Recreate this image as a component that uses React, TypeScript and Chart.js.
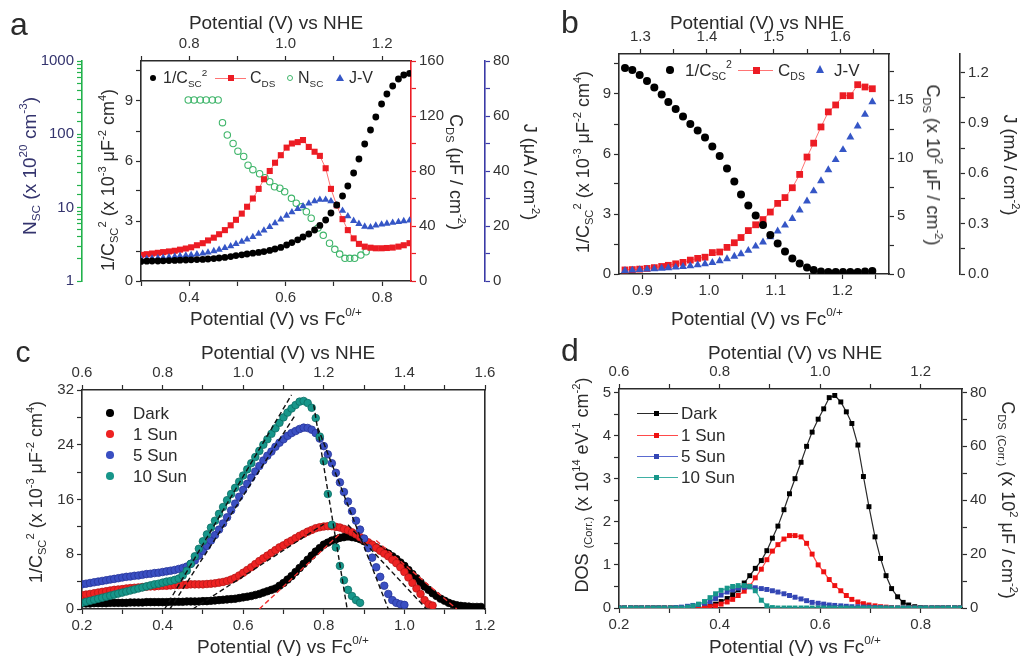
import React, { useEffect, useRef } from 'react';
import { Chart, registerables } from 'chart.js';

Chart.register(...registerables);

const FONT = '"Liberation Sans", Arial, Helvetica, sans-serif';
const INK = '#2b2b2b';

// ---------- (a) capacitance / current vs potential ----------
const potA = [0.300, 0.312, 0.323, 0.335, 0.346, 0.358, 0.370, 0.381, 0.393, 0.404,
  0.416, 0.428, 0.439, 0.451, 0.462, 0.474, 0.486, 0.497, 0.509, 0.520,
  0.532, 0.544, 0.555, 0.567, 0.578, 0.590, 0.602, 0.613, 0.625, 0.636,
  0.648, 0.660, 0.671, 0.683, 0.694, 0.706, 0.718, 0.729, 0.741, 0.752,
  0.764, 0.776, 0.787, 0.799, 0.810, 0.822, 0.834, 0.845, 0.857];
const invCscA = [0.98, 0.99, 1.0, 1.0, 1.01, 1.02, 1.03, 1.04, 1.05, 1.06,
  1.07, 1.08, 1.1, 1.12, 1.15, 1.18, 1.22, 1.27, 1.31, 1.35,
  1.39, 1.43, 1.47, 1.53, 1.6, 1.68, 1.8, 1.92, 2.06, 2.2,
  2.35, 2.55, 2.78, 3.05, 3.4, 3.8, 4.25, 4.75, 5.4, 6.1,
  6.85, 7.55, 8.2, 8.85, 9.35, 9.75, 10.1, 10.3, 10.38];
const cdsA = [19, 19.5, 20, 20.5, 21, 21.5, 22, 22.8, 23.6, 24.5,
  26, 27.5, 29.5, 31.5, 34, 37, 40.5, 44.5, 49, 54,
  60, 67, 74, 80, 86, 91.5, 97, 100, 101, 102.5,
  97.5, 94, 91, 82, 67, 55, 45, 37, 31, 27,
  25, 24.2, 23.8, 23.8, 24, 24.3, 25, 26, 27.5];
const jvA = [8.0, 8.1, 8.2, 8.35, 8.5, 8.7, 8.9, 9.1, 9.3, 9.5,
  9.75, 10.0, 10.4, 10.9, 11.4, 12.0, 12.7, 13.5, 14.3, 15.1,
  16.0, 17.2, 18.4, 19.7, 21.0, 22.4, 23.8, 25.0, 26.2, 27.2,
  28.2, 29.0, 29.6, 29.6, 29.0, 27.6, 25.6, 23.6, 21.9, 20.8,
  19.8, 19.6, 20.2, 20.6, 20.9, 21.2, 21.5, 21.8, 22.0];
const potNscA = [0.398, 0.410, 0.423, 0.435, 0.448, 0.460, 0.469, 0.479, 0.491, 0.501,
  0.513, 0.522, 0.532, 0.546, 0.557, 0.567, 0.577, 0.588, 0.598, 0.612,
  0.622, 0.633, 0.643, 0.653, 0.667, 0.678, 0.691, 0.702, 0.712, 0.723,
  0.733, 0.743, 0.756, 0.767];
const nscA = [294, 294, 294, 294, 294, 294, 144, 98, 75, 59,
  50, 38, 33, 29, 25.6, 22.6, 19.3, 18.4, 16.5, 13.4,
  11.5, 10.3, 8.8, 7.2, 5.3, 4.2, 3.27, 2.7, 2.33, 2.04,
  2.04, 2.04, 2.26, 2.5];

// ---------- (b) ----------
const potB = [0.874, 0.885, 0.896, 0.907, 0.918, 0.929, 0.939, 0.950, 0.961, 0.972,
  0.983, 0.994, 1.005, 1.016, 1.027, 1.038, 1.048, 1.059, 1.070, 1.081,
  1.092, 1.103, 1.114, 1.125, 1.136, 1.147, 1.157, 1.168, 1.179, 1.190,
  1.201, 1.212, 1.223, 1.234, 1.245];
const invCscB = [10.3, 10.2, 9.95, 9.65, 9.32, 8.98, 8.6, 8.25, 7.88, 7.5,
  7.17, 6.83, 6.37, 5.9, 5.28, 4.62, 3.98, 3.42, 2.92, 2.45,
  1.95, 1.53, 1.12, 0.78, 0.53, 0.33, 0.2, 0.13, 0.1, 0.1,
  0.1, 0.1, 0.1, 0.12, 0.15];
const cdsB = [0.35, 0.38, 0.42, 0.48, 0.55, 0.65, 0.75, 0.88, 1.0, 1.2,
  1.35, 1.45, 1.85, 1.9, 2.3, 2.7, 3.15, 3.75, 4.25, 4.7,
  5.35, 6.1, 6.6, 7.45, 8.6, 10.1, 11.3, 12.7, 14.0, 14.6,
  15.4, 15.4, 16.35, 16.15, 16.0];
const jvB = [0.02, 0.022, 0.025, 0.028, 0.03, 0.033, 0.036, 0.04, 0.044, 0.048,
  0.054, 0.06, 0.068, 0.078, 0.09, 0.105, 0.12, 0.14, 0.165, 0.19,
  0.22, 0.255, 0.29, 0.33, 0.38, 0.434, 0.494, 0.554, 0.62, 0.68,
  0.74, 0.815, 0.88, 0.95, 1.025];

// ---------- (c) Mott-Schottky under illumination ----------
const potC = [0.20, 0.21, 0.22, 0.23, 0.24, 0.25, 0.26, 0.27, 0.28, 0.29,
  0.30, 0.31, 0.32, 0.33, 0.34, 0.35, 0.36, 0.37, 0.38, 0.39,
  0.40, 0.41, 0.42, 0.43, 0.44, 0.45, 0.46, 0.47, 0.48, 0.49,
  0.50, 0.51, 0.52, 0.53, 0.54, 0.55, 0.56, 0.57, 0.58, 0.59,
  0.60, 0.61, 0.62, 0.63, 0.64, 0.65, 0.66, 0.67, 0.68, 0.69,
  0.70, 0.71, 0.72, 0.73, 0.74, 0.75, 0.76, 0.77, 0.78, 0.79,
  0.80, 0.81, 0.82, 0.83, 0.84, 0.85, 0.86, 0.87, 0.88, 0.89,
  0.90, 0.91, 0.92, 0.93, 0.94, 0.95, 0.96, 0.97, 0.98, 0.99,
  1.00, 1.01, 1.02, 1.03, 1.04, 1.05, 1.06, 1.07, 1.08, 1.09,
  1.10, 1.11, 1.12, 1.13, 1.14, 1.15, 1.16, 1.17, 1.18, 1.19];
const darkC = [0.8, 0.8, 0.8, 0.85, 0.85, 0.85, 0.85, 0.9, 0.9, 0.9,
  0.9, 0.9, 0.95, 0.95, 0.95, 0.95, 1.0, 1.0, 1.0, 1.0,
  1.0, 1.0, 1.05, 1.05, 1.05, 1.05, 1.1, 1.1, 1.1, 1.1,
  1.15, 1.15, 1.2, 1.25, 1.3, 1.35, 1.4, 1.45, 1.5, 1.6,
  1.7, 1.8, 1.9, 2.05, 2.2, 2.4, 2.6, 2.8, 3.0, 3.4,
  3.8, 4.3, 4.8, 5.4, 6.0, 6.6, 7.2, 7.8, 8.4, 8.9,
  9.4, 9.7, 10.0, 10.2, 10.4, 10.5, 10.6, 10.5, 10.4, 10.2,
  9.9, 9.6, 9.3, 9.0, 8.7, 8.4, 8.1, 7.7, 7.3, 6.8,
  6.3, 5.7, 5.1, 4.5, 3.9, 3.3, 2.8, 2.3, 1.9, 1.5,
  1.2, 0.9, 0.7, 0.55, 0.45, 0.4, 0.35, 0.3, 0.3, 0.3];
const sun1C = [2.0, 2.1, 2.2, 2.3, 2.4, 2.5, 2.6, 2.7, 2.8, 2.85,
  2.9, 3.0, 3.05, 3.1, 3.15, 3.2, 3.25, 3.3, 3.3, 3.35,
  3.4, 3.4, 3.45, 3.5, 3.5, 3.55, 3.55, 3.6, 3.6, 3.6,
  3.6, 3.65, 3.7, 3.75, 3.85, 3.95, 4.1, 4.3, 4.55, 4.9,
  5.3, 5.7, 6.1, 6.55, 7.0, 7.4, 7.8, 8.2, 8.6, 9.0,
  9.3, 9.7, 10.0, 10.35, 10.7, 11.0, 11.3, 11.55, 11.8, 11.95,
  12.05, 12.1, 12.1, 12.0, 11.9, 11.7, 11.5, 11.2, 10.9, 10.5,
  10.1, 9.75, 9.4, 8.95, 8.5, 8.1, 7.7, 7.2, 6.7, 6.1,
  5.4, 4.6, 3.8, 3.0, 2.2, 1.3, 0.7, 0.5];
const sun5C = [3.6, 3.7, 3.8, 3.9, 4.0, 4.1, 4.2, 4.3, 4.4, 4.5,
  4.6, 4.7, 4.75, 4.85, 4.9, 5.0, 5.1, 5.15, 5.25, 5.3,
  5.4, 5.5, 5.6, 5.7, 5.85, 6.0, 6.2, 6.6, 7.1, 7.8,
  8.5, 9.2, 10.0, 10.8, 11.6, 12.5, 13.4, 14.4, 15.4, 16.4,
  17.4, 18.3, 19.2, 20.1, 20.9, 21.7, 22.4, 23.0, 23.7, 24.3,
  24.8, 25.3, 25.7, 26.0, 26.3, 26.5, 26.45, 26.2, 25.7, 24.9,
  23.8, 22.6, 21.3, 19.9, 18.5, 17.1, 15.7, 14.3, 12.9, 11.6,
  10.3, 8.9, 7.5, 6.1, 4.7, 3.4, 2.2, 1.3, 0.9, 0.7,
  0.6];
const sun10C = [0.9, 1.05, 1.2, 1.35, 1.5, 1.65, 1.8, 1.95, 2.1, 2.25,
  2.4, 2.55, 2.7, 2.85, 3.0, 3.15, 3.3, 3.45, 3.6, 3.7,
  3.85, 4.0, 4.1, 4.25, 4.45, 4.9, 5.6, 6.6, 7.7, 8.8,
  9.9, 10.9, 11.9, 12.9, 13.9, 14.9, 15.9, 16.8, 17.7, 18.6,
  19.5, 20.4, 21.3, 22.2, 23.1, 24.0, 24.8, 25.6, 26.4, 27.2,
  28.0, 28.7, 29.3, 29.8, 30.3, 30.4, 30.1, 29.4, 27.9, 25.2,
  21.6, 16.8, 12.3, 9.0, 6.3, 4.2, 2.8, 1.9, 1.3, 0.9];
// straight-line extrapolations: [x0, x1, y0, y1]
const fitsC = [
  [0.405, 0.720, 0, 31.3],
  [0.775, 0.858, 29.8, 0],
  [0.418, 0.730, 0, 28.4],
  [0.785, 0.960, 26.5, 0],
  [0.475, 0.800, 0, 12.4],
  [0.860, 1.055, 12.3, 0],
];
const darkFitsC = [
  [0.640, 0.840, 0, 11.0],
  [0.930, 1.130, 10.0, 0],
];

// ---------- (d) corrected density of states ----------
const potD = [0.200, 0.211, 0.223, 0.234, 0.245, 0.257, 0.268, 0.279, 0.290, 0.302,
  0.313, 0.324, 0.336, 0.347, 0.358, 0.370, 0.381, 0.392, 0.403, 0.415,
  0.426, 0.437, 0.449, 0.460, 0.471, 0.483, 0.494, 0.505, 0.516, 0.528,
  0.539, 0.550, 0.562, 0.573, 0.584, 0.596, 0.607, 0.618, 0.629, 0.641,
  0.652, 0.663, 0.675, 0.686, 0.697, 0.709, 0.720, 0.731, 0.742, 0.754,
  0.765, 0.776, 0.788, 0.799, 0.810, 0.822, 0.833, 0.844, 0.855, 0.867,
  0.878];
const darkD = [0, 0, 0, 0, 0, 0, 0, 0, 0, 0,
  0, 0, 0, 0, 0.01, 0.02, 0.05, 0.09, 0.15, 0.22,
  0.31, 0.42, 0.58, 0.75, 0.92, 1.1, 1.33, 1.62, 1.9, 2.28,
  2.65, 3.0, 3.38, 3.75, 4.08, 4.38, 4.62, 4.88, 4.93, 4.78,
  4.55, 4.28, 3.78, 3.05, 2.35, 1.65, 1.15, 0.75, 0.45, 0.26,
  0.13, 0.07, 0.03, 0.01, 0, 0, 0, 0, 0, 0,
  0];
const sun1D = [0, 0, 0, 0, 0, 0, 0, 0, 0, 0,
  0, 0, 0, 0, 0, 0.01, 0.03, 0.05, 0.09, 0.14,
  0.2, 0.29, 0.39, 0.51, 0.7, 0.9, 1.12, 1.32, 1.47, 1.6,
  1.68, 1.68, 1.65, 1.5, 1.25, 1.0, 0.84, 0.66, 0.52, 0.4,
  0.29, 0.2, 0.14, 0.1, 0.07, 0.05, 0.03, 0.02, 0.01, 0,
  0, 0, 0, 0, 0, 0, 0, 0, 0, 0,
  0];
const sun5D = [0, 0, 0, 0, 0, 0, 0, 0, 0, 0,
  0.01, 0.02, 0.04, 0.06, 0.08, 0.11, 0.15, 0.22, 0.3, 0.37,
  0.42, 0.46, 0.48, 0.49, 0.47, 0.45, 0.43, 0.4, 0.37, 0.33,
  0.29, 0.25, 0.21, 0.17, 0.13, 0.11, 0.09, 0.07, 0.06, 0.05,
  0.04, 0.03, 0.03, 0.02, 0.02, 0.01, 0.01, 0, 0, 0,
  0, 0, 0, 0, 0, 0, 0, 0, 0, 0,
  0];
const sun10D = [0, 0, 0, 0, 0, 0, 0, 0, 0, 0,
  0, 0, 0.02, 0.05, 0.09, 0.15, 0.24, 0.33, 0.41, 0.46,
  0.5, 0.52, 0.52, 0.5, 0.4, 0.18, 0.05, 0.01, 0, 0,
  0, 0, 0, 0, 0, 0, 0, 0, 0, 0,
  0, 0, 0, 0, 0, 0, 0, 0, 0, 0,
  0, 0, 0, 0, 0, 0, 0, 0, 0, 0,
  0];

// ---------- helpers ----------
const pts = (xs: number[], ys: number[]) => ys.map((y, i) => ({ x: xs[i], y }));

const majorLabel = (major: number, digits: number) => (v: number | string) => {
  const n = Number(v);
  const r = n / major;
  return Math.abs(r - Math.round(r)) < 1e-6 ? n.toFixed(digits) : '';
};
const logLabel = (v: number | string) => {
  const n = Number(v);
  return [1, 10, 100, 1000].includes(n) ? String(n) : '';
};

type Side = 'left' | 'right' | 'top' | 'bottom';
interface AxOpt {
  side: Side; min: number; max: number; size: number;
  step?: number; major?: number; digits?: number; weight?: number;
  color?: string; labelColor?: string; log?: boolean; ticks?: boolean; labels?: boolean;
}
function ax(o: AxOpt): any {
  const col = o.color ?? INK;
  const vertical = o.side === 'left' || o.side === 'right';
  return {
    type: o.log ? 'logarithmic' : 'linear',
    axis: vertical ? 'y' : 'x',
    position: o.side,
    min: o.min,
    max: o.max,
    weight: o.weight ?? 0,
    afterFit: (s: any) => {
      if (vertical) s.width = o.size; else s.height = o.size;
    },
    border: { display: true, color: col, width: 1.6 },
    grid: {
      display: true, drawOnChartArea: false, drawTicks: o.ticks !== false,
      tickLength: 5, tickWidth: 1.2, tickColor: col,
    },
    ticks: {
      autoSkip: false, includeBounds: false, maxRotation: 0, minRotation: 0, padding: 3,
      color: o.labelColor ?? '#333', font: { family: FONT, size: 15 },
      stepSize: o.step,
      callback: o.labels === false ? () => '' : o.log ? logLabel : majorLabel(o.major ?? 1, o.digits ?? 0),
    },
  };
}

const baseOptions = (padding: any, scales: any) => ({
  animation: false,
  responsive: false,
  events: [],
  layout: { padding },
  plugins: { legend: { display: false }, tooltip: { enabled: false } },
  scales,
});

const RED = '#ec1c24';
const RED_LINE = '#ff7474';
const BLUE = '#3556c6';
const GREEN = '#3fb56a';
const TEAL = '#17968a';
const NAVY = '#34346e';
const AXIS_BLUE = '#3a3aa6';
const AXIS_GREEN = '#22b24c';

function configA(): any {
  return {
    type: 'scatter',
    data: {
      datasets: [
        { data: pts(potA, invCscA), yAxisID: 'y', order: 0, pointRadius: 3.4, pointBackgroundColor: '#000', pointBorderWidth: 0 },
        { data: pts(potA, jvA), yAxisID: 'yJ', order: 1, pointStyle: 'triangle', pointRadius: 4.2, pointBackgroundColor: BLUE, pointBorderWidth: 0 },
        { data: pts(potA, cdsA), yAxisID: 'yC', order: 2, showLine: true, borderColor: RED_LINE, borderWidth: 1, pointStyle: 'rect', pointRadius: 4.3, pointBackgroundColor: RED, pointBorderWidth: 0 },
        { data: pts(potNscA, nscA), yAxisID: 'yN', order: 3, pointRadius: 3.2, pointBackgroundColor: 'rgba(0,0,0,0)', pointBorderColor: GREEN, pointBorderWidth: 1.1 },
      ],
    },
    options: baseOptions({ left: 40, top: 30, right: 497, bottom: 345 }, {
      x: ax({ side: 'bottom', min: 0.3, max: 0.86, step: 0.1, major: 0.2, digits: 1, size: 30 }),
      xTop: ax({ side: 'top', min: 0.7, max: 1.26, step: 0.1, major: 0.2, digits: 1, size: 31 }),
      y: ax({ side: 'left', min: 0, max: 11, step: 1.5, major: 3, digits: 0, size: 59, weight: 0 }),
      yN: ax({ side: 'left', min: 1, max: 1000, log: true, size: 42, weight: 1, color: AXIS_GREEN, labelColor: NAVY }),
      yC: ax({ side: 'right', min: 0, max: 160, step: 20, major: 40, digits: 0, size: 74, weight: 0, color: RED }),
      yJ: ax({ side: 'right', min: 0, max: 80, step: 10, major: 20, digits: 0, size: 40, weight: 1, color: AXIS_BLUE }),
    }),
  };
}

function configB(): any {
  return {
    type: 'scatter',
    data: {
      datasets: [
        { data: pts(potB, invCscB), yAxisID: 'y', order: 0, pointRadius: 4, pointBackgroundColor: '#000', pointBorderWidth: 0 },
        { data: pts(potB, jvB), yAxisID: 'yJ', order: 1, pointStyle: 'triangle', pointRadius: 4.6, pointBackgroundColor: BLUE, pointBorderWidth: 0 },
        { data: pts(potB, cdsB), yAxisID: 'yC', order: 2, showLine: true, borderColor: RED_LINE, borderWidth: 1, pointStyle: 'rect', pointRadius: 4.8, pointBackgroundColor: RED, pointBorderWidth: 0 },
      ],
    },
    options: baseOptions({ left: 579, top: 24, right: 22, bottom: 352 }, {
      x: ax({ side: 'bottom', min: 0.865, max: 1.27, step: 0.05, major: 0.1, digits: 1, size: 30 }),
      xTop: ax({ side: 'top', min: 1.268, max: 1.673, step: 0.05, major: 0.1, digits: 1, size: 30 }),
      y: ax({ side: 'left', min: 0, max: 11, step: 1.5, major: 3, digits: 0, size: 40 }),
      yC: ax({ side: 'right', min: 0, max: 19, step: 2.5, major: 5, digits: 0, size: 71, weight: 0 }),
      yJ: ax({ side: 'right', min: 0, max: 1.31, step: 0.15, major: 0.3, digits: 1, size: 40, weight: 1 }),
    }),
  };
}

function lineSeg(f: number[], color: string, order: number): any {
  return {
    data: [{ x: f[0], y: f[2] }, { x: f[1], y: f[3] }],
    yAxisID: 'y', order, showLine: true, borderColor: color, borderWidth: 1.4,
    borderDash: [5, 3], pointRadius: 0,
  };
}

function configC(): any {
  const dot = (ys: number[], color: string, rim: string, order: number) => ({
    data: pts(potC, ys), yAxisID: 'y', order, pointRadius: 3.8,
    pointBackgroundColor: color, pointBorderColor: rim, pointBorderWidth: 0.8,
  });
  return {
    type: 'scatter',
    data: {
      datasets: [
        ...fitsC.map((f) => lineSeg(f, '#111', 0)),
        ...darkFitsC.map((f) => lineSeg(f, '#f03030', 0)),
        dot(sun10C, TEAL, '#0d6f65', 1),
        dot(sun5C, '#3a4fc2', '#27359a', 2),
        dot(sun1C, '#ee2222', '#b81818', 3),
        dot(darkC, '#000', '#000', 4),
      ],
    },
    options: baseOptions({ left: 42, top: 365, right: 535, bottom: 17 }, {
      x: ax({ side: 'bottom', min: 0.2, max: 1.2, step: 0.1, major: 0.2, digits: 1, size: 30 }),
      xTop: ax({ side: 'top', min: 0.6, max: 1.6, step: 0.1, major: 0.2, digits: 1, size: 25 }),
      y: ax({ side: 'left', min: 0, max: 32, step: 4, major: 8, digits: 0, size: 40 }),
      yR: ax({ side: 'right', min: 0, max: 32, size: 2, ticks: false, labels: false }),
    }),
  };
}

function configD(): any {
  const ser = (ys: number[], line: string, fill: string, order: number) => ({
    data: pts(potD, ys), yAxisID: 'y', order, showLine: true, borderColor: line, borderWidth: 1.2,
    pointStyle: 'rect', pointRadius: 3.5, pointBackgroundColor: fill, pointBorderWidth: 0,
  });
  return {
    type: 'scatter',
    data: {
      datasets: [
        ser(sun10D, '#3fb0a4', TEAL, 0),
        ser(sun5D, '#5a6ad0', '#3346b4', 1),
        ser(sun1D, '#ff4a4a', '#ee1111', 2),
        ser(darkD, '#2a2a2a', '#000', 3),
      ],
    },
    options: baseOptions({ left: 579, top: 364, right: 20, bottom: 18 }, {
      x: ax({ side: 'bottom', min: 0.2, max: 0.882, step: 0.1, major: 0.2, digits: 1, size: 30 }),
      xTop: ax({ side: 'top', min: 0.6, max: 1.282, step: 0.1, major: 0.2, digits: 1, size: 25 }),
      y: ax({ side: 'left', min: 0, max: 5.08, step: 0.5, major: 1, digits: 0, size: 40 }),
      yC: ax({ side: 'right', min: 0, max: 81.28, step: 10, major: 20, digits: 0, size: 40 }),
    }),
  };
}

// ---------- text overlay pieces ----------
const Sb = ({ children }: any) => (
  <sub style={{ fontSize: '0.62em', verticalAlign: '-0.4em', lineHeight: 0 }}>{children}</sub>
);
const Sp = ({ children }: any) => (
  <sup style={{ fontSize: '0.62em', verticalAlign: '0.75em', lineHeight: 0 }}>{children}</sup>
);

function T({ x, y, s = 19, rot = 0, a = 'c', c = INK, children }: any) {
  const tx = a === 'c' ? '-50%' : a === 'l' ? '0' : '-100%';
  return (
    <div
      style={{
        position: 'absolute', left: x, top: y, whiteSpace: 'nowrap', fontSize: s,
        lineHeight: 1, color: c, fontFamily: FONT,
        transform: `translate(${tx},-50%) rotate(${rot}deg)`,
      }}
    >
      {children}
    </div>
  );
}

const Dot = ({ x, y, r = 3.5, c = '#000' }: any) => (
  <div style={{ position: 'absolute', left: x - r, top: y - r, width: 2 * r, height: 2 * r, borderRadius: '50%', background: c }} />
);
const Ring = ({ x, y, r = 3.4, c = GREEN }: any) => (
  <div style={{ position: 'absolute', left: x - r, top: y - r, width: 2 * r, height: 2 * r, borderRadius: '50%', border: `1.1px solid ${c}`, boxSizing: 'border-box' }} />
);
const Sq = ({ x, y, s = 6, c = RED }: any) => (
  <div style={{ position: 'absolute', left: x - s / 2, top: y - s / 2, width: s, height: s, background: c }} />
);
const Tri = ({ x, y, w = 8, h = 7, c = BLUE }: any) => (
  <div style={{ position: 'absolute', left: x - w / 2, top: y - h / 2, width: 0, height: 0, borderLeft: `${w / 2}px solid transparent`, borderRight: `${w / 2}px solid transparent`, borderBottom: `${h}px solid ${c}` }} />
);
const Ln = ({ x1, x2, y, c, w = 1 }: any) => (
  <div style={{ position: 'absolute', left: x1, top: y - w / 2, width: x2 - x1, height: w, background: c }} />
);

const FcTitle = () => (<>Potential (V) vs Fc<Sp>0/+</Sp></>);
const InvCsc = () => (<>1/C<Sb>SC</Sb><Sp>2</Sp></>);

export default function App() {
  const r0 = useRef<HTMLCanvasElement>(null);
  const r1 = useRef<HTMLCanvasElement>(null);
  const r2 = useRef<HTMLCanvasElement>(null);
  const r3 = useRef<HTMLCanvasElement>(null);

  useEffect(() => {
    const refs = [r0, r1, r2, r3];
    const cfgs = [configA(), configB(), configC(), configD()];
    const charts = cfgs.map((c, i) => new Chart(refs[i].current as HTMLCanvasElement, c));
    return () => charts.forEach((ch) => ch.destroy());
  }, []);

  const cv = { position: 'absolute' as const, left: 0, top: 0 };
  const legendSize = 16;
  const cdLegend = 17;

  return (
    <div style={{ position: 'fixed', left: 0, top: 0, width: 1022, height: 656, background: '#fff', overflow: 'hidden', fontFamily: FONT, color: INK }}>
      <canvas ref={r0} width={1022} height={656} style={cv} />
      <canvas ref={r1} width={1022} height={656} style={cv} />
      <canvas ref={r2} width={1022} height={656} style={cv} />
      <canvas ref={r3} width={1022} height={656} style={cv} />

      {/* panel a */}
      <T x={19} y={24} s={32}>a</T>
      <T x={276} y={22}>Potential (V) vs NHE</T>
      <T x={276} y={318}><FcTitle /></T>
      <T x={108} y={180} s={18} rot={-90}><InvCsc /> (x 10<Sp>-3</Sp> μF<Sp>-2</Sp> cm<Sp>4</Sp>)</T>
      <T x={29} y={166} s={19} rot={-90} c={NAVY}>N<Sb>SC</Sb> (x 10<Sp>20</Sp> cm<Sp>-3</Sp>)</T>
      <T x={456} y={172} s={18} rot={90}>C<Sb>DS</Sb> (μF / cm<Sp>-2</Sp>)</T>
      <T x={530} y={172} s={18} rot={90}>J (μA / cm<Sp>-2</Sp>)</T>
      <Dot x={153} y={78} r={3.4} />
      <T x={163} y={78} s={legendSize} a="l"><InvCsc /></T>
      <Ln x1={215} x2={246} y={78} c={RED_LINE} />
      <Sq x={231} y={78} s={6} />
      <T x={250} y={78} s={legendSize} a="l">C<Sb>DS</Sb></T>
      <Ring x={290} y={78} />
      <T x={298} y={78} s={legendSize} a="l">N<Sb>SC</Sb></T>
      <Tri x={340} y={77} />
      <T x={349} y={78} s={legendSize} a="l">J-V</T>

      {/* panel b */}
      <T x={570} y={22} s={32}>b</T>
      <T x={757} y={22}>Potential (V) vs NHE</T>
      <T x={757} y={318}><FcTitle /></T>
      <T x={583} y={162} s={18} rot={-90}><InvCsc /> (x 10<Sp>-3</Sp> μF<Sp>-2</Sp> cm<Sp>4</Sp>)</T>
      <T x={933} y={165} s={18} rot={90}>C<Sb>DS</Sb> (x 10<Sp>2</Sp> μF / cm<Sp>-2</Sp>)</T>
      <T x={1010} y={165} s={18} rot={90}>J (mA / cm<Sp>-2</Sp>)</T>
      <Dot x={670} y={70} r={3.8} />
      <T x={685} y={70} s={legendSize + 1} a="l"><InvCsc /></T>
      <Ln x1={738} x2={773} y={70} c={RED_LINE} />
      <Sq x={756} y={70} s={7} />
      <T x={778} y={70} s={legendSize + 1} a="l">C<Sb>DS</Sb></T>
      <Tri x={820} y={69} w={9} h={8} />
      <T x={834} y={70} s={legendSize + 1} a="l">J-V</T>

      {/* panel c */}
      <T x={23} y={352} s={30}>c</T>
      <T x={288} y={352}>Potential (V) vs NHE</T>
      <T x={283} y={646}><FcTitle /></T>
      <T x={36} y={492} s={18} rot={-90}><InvCsc /> (x 10<Sp>-3</Sp> μF<Sp>-2</Sp> cm<Sp>4</Sp>)</T>
      <Dot x={110} y={413} r={3.8} c="#000" />
      <T x={133} y={413} s={cdLegend} a="l">Dark</T>
      <Dot x={110} y={434} r={3.8} c="#ee2222" />
      <T x={133} y={434} s={cdLegend} a="l">1 Sun</T>
      <Dot x={110} y={455} r={3.8} c="#3a4fc2" />
      <T x={133} y={455} s={cdLegend} a="l">5 Sun</T>
      <Dot x={110} y={476} r={3.8} c={TEAL} />
      <T x={133} y={476} s={cdLegend} a="l">10 Sun</T>

      {/* panel d */}
      <T x={570} y={350} s={32}>d</T>
      <T x={795} y={352}>Potential (V) vs NHE</T>
      <T x={795} y={646}><FcTitle /></T>
      <T x={582} y={485} s={18} rot={-90}>DOS <Sb>(Corr.)</Sb> (x 10<Sp>14</Sp> eV<Sp>-1</Sp> cm<Sp>-2</Sp>)</T>
      <T x={1008} y={500} s={18} rot={90}>C<Sb>DS</Sb> <Sb>(Corr.)</Sb> (x 10<Sp>2</Sp> μF / cm<Sp>-2</Sp>)</T>
      <Ln x1={637} x2={678} y={413} c="#2a2a2a" />
      <Sq x={656} y={413} s={5} c="#000" />
      <T x={681} y={413} s={cdLegend} a="l">Dark</T>
      <Ln x1={637} x2={678} y={435} c="#ff4a4a" />
      <Sq x={656} y={435} s={5} c="#ee1111" />
      <T x={681} y={435} s={cdLegend} a="l">1 Sun</T>
      <Ln x1={637} x2={678} y={456} c="#5a6ad0" />
      <Sq x={656} y={456} s={5} c="#3346b4" />
      <T x={681} y={456} s={cdLegend} a="l">5 Sun</T>
      <Ln x1={637} x2={678} y={477} c="#3fb0a4" />
      <Sq x={656} y={477} s={5} c={TEAL} />
      <T x={681} y={477} s={cdLegend} a="l">10 Sun</T>
    </div>
  );
}
